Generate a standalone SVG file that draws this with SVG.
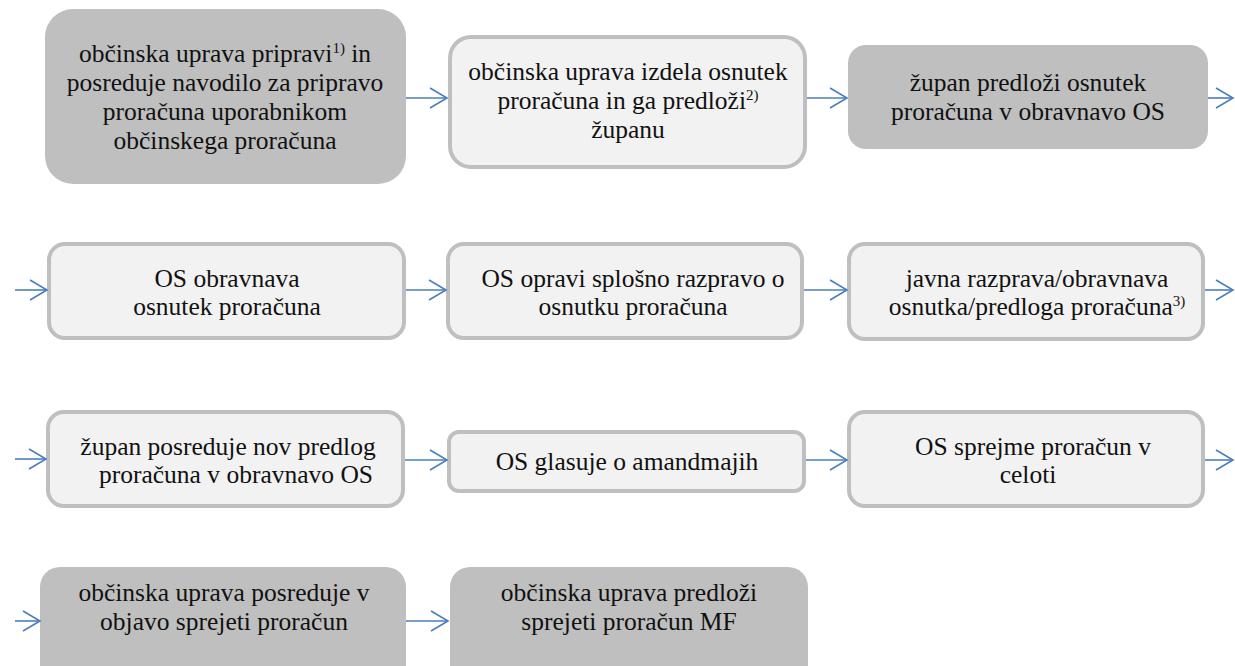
<svg xmlns="http://www.w3.org/2000/svg" width="1235" height="666" viewBox="0 0 1235 666" font-family="'Liberation Serif', 'DejaVu Serif', serif">
<defs>
<marker id="arr" markerUnits="userSpaceOnUse" markerWidth="22" markerHeight="24" refX="18" refY="11" orient="auto">
<path d="M1,1 L18,11 L1,21" fill="none" stroke="#4a7ebb" stroke-width="1.6"/>
</marker>
</defs>
<style>
.dark{fill:#bfbfbf;stroke:none}
.light{fill:#f2f2f2;stroke:#bfbfbf;stroke-width:4}
text{font-family:'Liberation Serif','DejaVu Serif',serif;font-size:25.5px;fill:#111;text-anchor:middle}
.sup{font-size:15px}
.conn line{stroke:#4a7ebb;stroke-width:1.6;marker-end:url(#arr)}
</style>
<rect width="1235" height="666" fill="#fff"/>

<g id="n1">
<rect class="dark" x="45" y="9" width="361" height="175" rx="28"/>
<text x="225" y="62">občinska uprava pripravi<tspan class="sup" dy="-9">1)</tspan><tspan dy="9"> in</tspan></text>
<text x="225" y="91">posreduje navodilo za pripravo</text>
<text x="225" y="120">proračuna uporabnikom</text>
<text x="225" y="149">občinskega proračuna</text>
</g>

<g id="n2">
<rect class="light" x="450" y="37" width="355" height="130" rx="21"/>
<text x="628" y="80">občinska uprava izdela osnutek</text>
<text x="628" y="109">proračuna in ga predloži<tspan class="sup" dy="-9">2)</tspan></text>
<text x="628" y="138">županu</text>
</g>

<g id="n3">
<rect class="dark" x="848" y="45" width="360" height="104" rx="18"/>
<text x="1028" y="91">župan predloži osnutek</text>
<text x="1028" y="120">proračuna v obravnavo OS</text>
</g>

<g id="n4">
<rect class="light" x="49" y="244" width="355" height="94" rx="16"/>
<text x="227" y="287">OS obravnava</text>
<text x="227" y="315">osnutek proračuna</text>
</g>

<g id="n5">
<rect class="light" x="448" y="244" width="354" height="94" rx="16"/>
<text x="633" y="287">OS opravi splošno razpravo o</text>
<text x="633" y="315">osnutku proračuna</text>
</g>

<g id="n6">
<rect class="light" x="849" y="244" width="354" height="95" rx="16"/>
<text x="1037" y="287">javna razprava/obravnava</text>
<text x="1037" y="315">osnutka/predloga proračuna<tspan class="sup" dy="-9">3)</tspan></text>
</g>

<g id="n7">
<rect class="light" x="48" y="412" width="355" height="94" rx="16"/>
<text x="228" y="455">župan posreduje nov predlog</text>
<text x="236" y="483">proračuna v obravnavo OS</text>
</g>

<g id="n8">
<rect class="light" x="449" y="432" width="355" height="59" rx="10"/>
<text x="627" y="470">OS glasuje o amandmajih</text>
</g>

<g id="n9">
<rect class="light" x="849" y="412" width="354" height="94" rx="16"/>
<text x="1033" y="455">OS sprejme proračun v</text>
<text x="1028" y="483">celoti</text>
</g>

<g id="n10">
<rect class="dark" x="40" y="567" width="366" height="125" rx="20"/>
<text x="224" y="601">občinska uprava posreduje v</text>
<text x="224" y="630">objavo sprejeti proračun</text>
</g>

<g id="n11">
<rect class="dark" x="450" y="567" width="358" height="125" rx="20"/>
<text x="629" y="601">občinska uprava predloži</text>
<text x="629" y="630">sprejeti proračun MF</text>
</g>

<g class="conn" id="connectors">
<line x1="406" y1="98" x2="447" y2="98"/>
<line x1="807" y1="98" x2="847" y2="98"/>
<line x1="1208" y1="98" x2="1233" y2="98"/>
<line x1="15" y1="290" x2="47" y2="290"/>
<line x1="406" y1="290" x2="446" y2="290"/>
<line x1="804" y1="290" x2="847" y2="290"/>
<line x1="1205" y1="290" x2="1233" y2="290"/>
<line x1="15" y1="459" x2="46" y2="459"/>
<line x1="405" y1="460" x2="447" y2="460"/>
<line x1="806" y1="460" x2="847" y2="460"/>
<line x1="1205" y1="460" x2="1233" y2="460"/>
<line x1="15" y1="621" x2="40" y2="621"/>
<line x1="406" y1="621" x2="448" y2="621"/>
</g>
</svg>
